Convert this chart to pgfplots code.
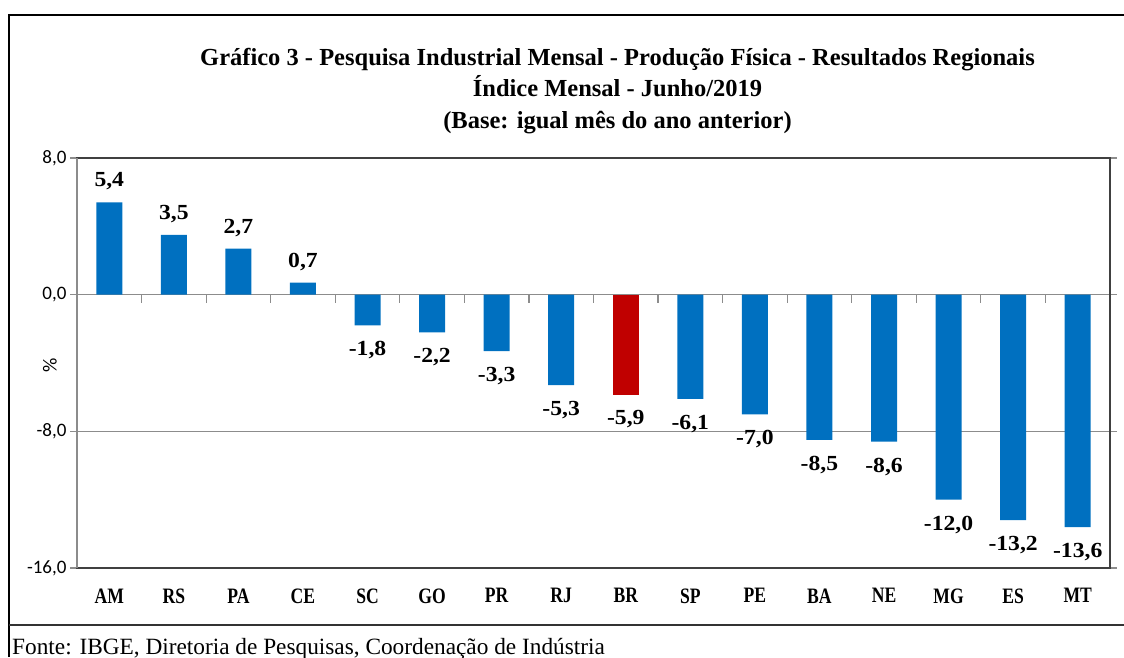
\documentclass[border=0pt]{standalone}
\usepackage{pgfplots}
\pgfplotsset{compat=1.18}
\usepackage{pgfplotstable}
\usepackage{fontspec}
\setmainfont{Liberation Serif}
\newfontfamily\catfont[FakeStretch=0.8]{Liberation Serif}
\newfontfamily\labfont[FakeStretch=1.1]{Liberation Serif}
\newfontfamily\tickfont{Carlito}
\definecolor{barblue}{HTML}{0070C0}
\definecolor{barred}{HTML}{C00000}
\definecolor{gridgray}{HTML}{8C8C8C}
\definecolor{framegray}{HTML}{404040}

\pgfplotstableread{
x val
0 5.4
1 3.5
2 2.7
3 0.7
}\bluepos
\pgfplotstableread{
x val
4 -1.8
5 -2.2
6 -3.3
7 -5.3
9 -6.1
10 -7.0
11 -8.5
12 -8.6
13 -12.0
14 -13.2
15 -13.6
}\blueneg
\pgfplotstableread{
x val
8 -5.9
}\reddata

\begin{document}
\begin{tikzpicture}[x=1pt,y=1pt]
\useasboundingbox (0,0) rectangle (1124,657);
% outer frame
\draw[line width=2pt, black] (9,0) -- (9,642) -- (1124,642);
\draw[line width=2pt, black!80] (9,32) -- (1124,32);
% title
\node[font=\bfseries\fontsize{24.5}{31.5}\selectfont, align=center, anchor=center] at (617.5,566)
  {Gráfico 3 - Pesquisa Industrial Mensal - Produção Física - Resultados Regionais\\
   Índice Mensal - Junho/2019\\
   (Base: igual mês do ano anterior)};
% source
\node[font=\fontsize{23.3}{26}\selectfont, anchor=base west, inner sep=0pt] at (12,3)
  {Fonte: IBGE, Diretoria de Pesquisas, Coordenação de Indústria};
% y label
\node[font=\tickfont\fontsize{20}{22}\selectfont, rotate=90] at (50,292) {\%};

\begin{axis}[
  at={(77pt,89pt)}, anchor=south west,
  width=1033pt, height=410pt, scale only axis,
  xmin=-0.5, xmax=15.5, ymin=-16, ymax=8,
  ybar, bar width=26pt,
  /pgf/bar shift=0pt,
  xtick={0,...,15},
  xticklabels={AM,RS,PA,CE,SC,GO,PR,RJ,BR,SP,PE,BA,NE,MG,ES,MT},
  xticklabel style={font=\catfont\bfseries\fontsize{22}{24}\selectfont, yshift=-10pt},
  x tick style={draw=none},
  ytick={-16,-8,0,8},
  yticklabel style={font=\tickfont\fontsize{19}{22}\selectfont,
    /pgf/number format/.cd, fixed, fixed zerofill, precision=1, use comma},
  y tick style={gridgray, line width=1.2pt},
  tick align=outside,
  major tick length=7pt,
  ymajorgrids,
  major grid style={gridgray, line width=1.3pt},
  axis line style={framegray, line width=1.6pt},
  /pgf/number format/assume math mode=true,
  nodes near coords,
  nodes near coords style={font=\labfont\bfseries\fontsize{21.5}{23}\selectfont, text=black,
    /pgf/number format/.cd, fixed, fixed zerofill, precision=1, use comma},
  clip=false,
]
\addplot[fill=barblue, draw=none, nodes near coords style={/tikz/inner ysep=12pt}] table[x=x, y=val] {\bluepos};
\addplot[fill=barblue, draw=none, nodes near coords style={/tikz/inner ysep=16pt}] table[x=x, y=val] {\blueneg};
\addplot[fill=barred, draw=none, nodes near coords style={/tikz/inner ysep=15pt}] table[x=x, y=val] {\reddata};
\draw[gridgray, line width=1.2pt] (axis cs:-0.5,-16) -- (axis cs:-0.5,8);
\pgfplotsinvokeforeach{0.5,1.5,...,14.5}{
  \draw[gridgray, line width=1.2pt] (axis cs:#1,0) -- ([yshift=-8pt]axis cs:#1,0);
}
\end{axis}
\end{tikzpicture}
\end{document}
